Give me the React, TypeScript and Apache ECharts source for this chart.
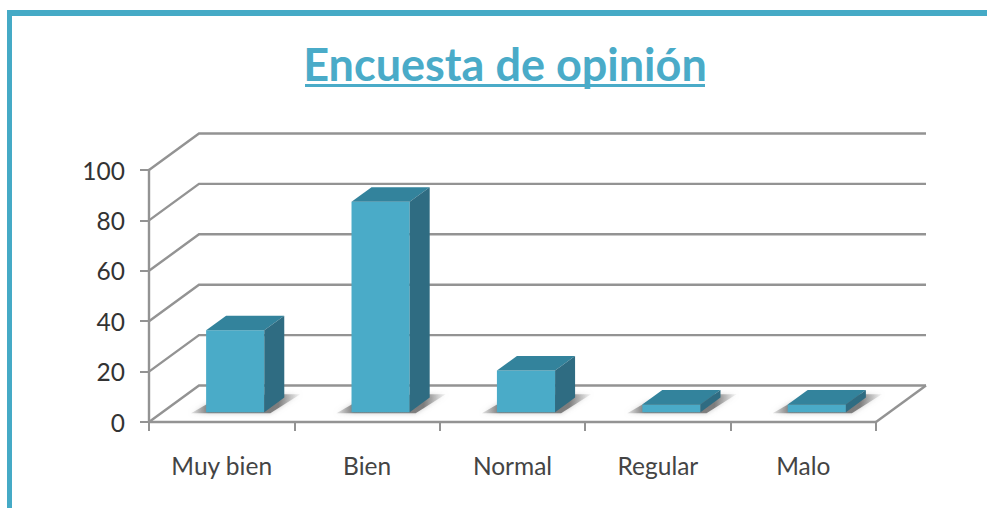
import React, { useEffect, useRef } from "react";
import * as echarts from "echarts";

const title = "Encuesta de opinión";
const categories = ["Muy bien", "Bien", "Normal", "Regular", "Malo"];
const values = [32.5, 83.5, 16.5, 3, 3];
const yTicks = [0, 20, 40, 60, 80, 100];

const FONT = "Lato, 'Open Sans', sans-serif";
const GRID = "#939393";
const TEAL = "#4aabc8";
const TEAL_TOP = "#33839c";
const TEAL_SIDE = "#2f6c82";
const DX = 50; // wall depth in pixels
const DY = -36.5;
const BAR_OFFSET = 0.27; // bar front position inside the depth
const BAR_DEPTH = 0.4;

export default function App() {
  const ref = useRef<HTMLDivElement>(null);
  useEffect(() => {
    const chart = echarts.init(ref.current!, null, { renderer: "svg" });
    const gridItem = (params: any, api: any) => {
      const v = api.value(0);
      const band = api.size([1, 0])[0];
      const a = api.coord([0, v]);
      const b = api.coord([categories.length - 1, v]);
      const x0 = a[0] - band / 2;
      const x1 = b[0] + band / 2;
      const y = a[1];
      const style = { stroke: GRID, lineWidth: 2.4, fill: "none" };
      const children: any[] = [
        { type: "polyline", shape: { points: [[x0, y], [x0 + DX, y + DY], [x1 + DX, y + DY]] }, style },
      ];
      if (v === 0) {
        children.push({ type: "line", shape: { x1, y1: y, x2: x1 + DX, y2: y + DY }, style });
      }
      return { type: "group", children };
    };
    const shadowItem = (params: any, api: any) => {
      const idx = api.value(0);
      const c = api.coord([idx, 0]);
      const band = api.size([1, 0])[0];
      const w = band * BAR_DEPTH;
      const xl = c[0] - w / 2 + DX * BAR_OFFSET;
      const xr = xl + w;
      const y = c[1] + DY * BAR_OFFSET;
      return {
        type: "polygon",
        shape: {
          points: [
            [xl - 15, y + 1],
            [xr + 6, y + 1],
            [xr + 36, y - 18],
            [xr + 4, y - 18],
            [xl + 4, y - 10],
          ],
        },
        style: {
          fill: {
            type: "linear", x: 0, y: 0, x2: 1, y2: 0,
            colorStops: [
              { offset: 0, color: "rgba(130,130,130,0.2)" },
              { offset: 0.16, color: "rgba(110,110,110,0.85)" },
              { offset: 0.8, color: "rgba(110,110,110,0.85)" },
              { offset: 1, color: "rgba(160,160,160,0.1)" },
            ],
          },
          shadowBlur: 5,
          shadowColor: "rgba(150,150,150,0.6)",
        },
      };
    };
    const barItem = (params: any, api: any) => {
      const idx = api.value(0);
      const base = api.coord([idx, 0]);
      const top = api.coord([idx, api.value(1)]);
      const band = api.size([1, 0])[0];
      const w = band * BAR_DEPTH;
      const ox = DX * BAR_OFFSET;
      const oy = DY * BAR_OFFSET;
      const xl = base[0] - w / 2 + ox;
      const xr = xl + w;
      const yb = base[1] + oy;
      const yt = top[1] + oy;
      const dx = DX * BAR_DEPTH;
      const dy = DY * BAR_DEPTH;
      return {
        type: "group",
        children: [
          { type: "rect", shape: { x: xl, y: yt, width: w, height: yb - yt }, style: { fill: TEAL } },
          { type: "polygon", shape: { points: [[xl, yt], [xr, yt], [xr + dx, yt + dy], [xl + dx, yt + dy]] }, style: { fill: TEAL_TOP } },
          { type: "polygon", shape: { points: [[xr, yt], [xr + dx, yt + dy], [xr + dx, yb + dy], [xr, yb]] }, style: { fill: TEAL_SIDE } },
        ],
      };
    };
    const barData = values.map((v, i) => [i, v]);
    chart.setOption({
      animation: false,
      backgroundColor: "#ffffff",
      title: {
        text: title,
        left: 500,
        top: 36,
        textAlign: "center",
        textStyle: { fontFamily: FONT, fontSize: 45, fontWeight: 700, color: "#4aabc8" },
      },
      grid: { left: 149, right: 111, top: 170, bottom: 86 },
      xAxis: {
        type: "category",
        data: categories,
        boundaryGap: true,
        axisLine: { lineStyle: { color: GRID, width: 2.4 } },
        axisTick: { show: true, length: 9, alignWithLabel: false, lineStyle: { color: GRID, width: 2 } },
        axisLabel: { fontFamily: FONT, fontSize: 24.5, color: "#444444", margin: 31 },
      },
      yAxis: {
        type: "value",
        min: 0,
        max: 100,
        interval: 20,
        axisLine: { show: true, lineStyle: { color: GRID, width: 2.4 } },
        axisTick: { show: true, length: 9, lineStyle: { color: GRID, width: 2 } },
        splitLine: { show: false },
        axisLabel: { fontFamily: FONT, fontSize: 24.5, color: "#333333", margin: 24 },
      },
      series: [
        { type: "custom", z: 1, silent: true, clip: false, renderItem: gridItem, data: yTicks.map((v) => [v]), encode: { y: 0 } },
        { type: "custom", z: 2, silent: true, clip: false, renderItem: shadowItem, data: barData, encode: { x: 0, y: 1 } },
        { type: "custom", z: 3, silent: true, clip: false, renderItem: barItem, data: barData, encode: { x: 0, y: 1 } },
      ],
      graphic: [
        { type: "rect", shape: { x: 7, y: 10, width: 980, height: 6 }, style: { fill: "#45aac6" }, z: 10 },
        { type: "rect", shape: { x: 7, y: 10, width: 5, height: 498 }, style: { fill: "#45aac6" }, z: 10 },
        { type: "rect", shape: { x: 305, y: 84, width: 400, height: 3 }, style: { fill: "#4aabc8" }, z: 10 },
      ],
    });
    return () => chart.dispose();
  }, []);
  return <div ref={ref} style={{ position: "absolute", left: 0, top: 0, width: 987, height: 508 }} />;
}
